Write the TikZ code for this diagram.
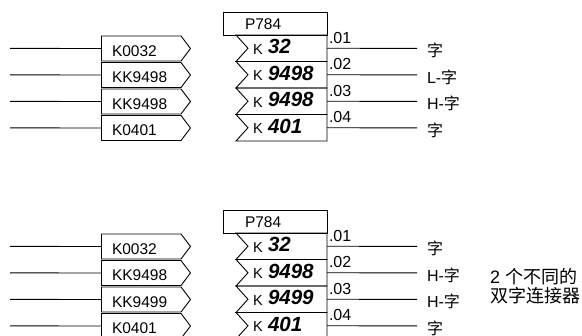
\documentclass[tikz,border=0pt]{standalone}
\usepackage{fontspec}
\setmainfont{Liberation Sans}
\newfontfamily\cjk{Noto Sans CJK SC}
\begin{document}
\begin{tikzpicture}[x=1pt,y=-1pt,line width=0.9pt,
  txt/.style={inner sep=0pt, outer sep=0pt, anchor=base west},
  lat/.style={txt, font=\fontsize{15.5}{18}\selectfont},
  kk/.style={txt, font=\fontsize{14.5}{17}\selectfont},
  num/.style={txt, font=\fontsize{20.5}{24}\selectfont\bfseries\itshape},
  outl/.style={txt, font=\fontsize{16}{18}\selectfont},
  note/.style={txt, font=\fontsize{18}{20}\selectfont},
  hid/.style={rectangle, inner sep=0pt, outer sep=0pt, draw=none, anchor=north west},
  cbox/.style={hid, minimum width=79.5pt, minimum height=25pt},
  rbox/.style={hid, minimum width=79pt, minimum height=26.5pt},
  pbox/.style={hid, draw, minimum width=103.5pt, minimum height=22.5pt},
]
\useasboundingbox (0,0) rectangle (582,336);
\clip (0,0) rectangle (582,336);
\foreach \g/\dy/\lst in {a/0/{1/K0032/32/{\cjk 字}, 2/KK9498/9498/{L-{\cjk 字}}, 3/KK9498/9498/{H-{\cjk 字}}, 4/K0401/401/{\cjk 字}},
                          b/198/{1/K0032/32/{\cjk 字}, 2/KK9498/9498/{H-{\cjk 字}}, 3/KK9499/9499/{H-{\cjk 字}}, 4/K0401/401/{\cjk 字}}} {
  \pgfmathsetmacro{\ptop}{12.5+\dy}
  \pgfmathsetmacro{\pbase}{29.5+\dy}
  \node[pbox] (p\g) at (223.5,\ptop) {};
  \node[lat] (pt\g) at (245,\pbase) {P784};
  \foreach \i/\ct/\nm/\out in \lst {
    \pgfmathsetmacro{\ctop}{36+26.5*(\i-1)+\dy}
    \pgfmathsetmacro{\rtop}{35+26.5*(\i-1)+\dy}
    \pgfmathsetmacro{\mid}{48.4+26.5*(\i-1)+\dy}
    \pgfmathsetmacro{\ctb}{\mid+8}
    \pgfmathsetmacro{\kb}{\mid+6}
    \pgfmathsetmacro{\nb}{\mid+5.5}
    \pgfmathsetmacro{\ib}{\mid-5}
    \pgfmathsetmacro{\ob}{\mid+8.5}
    % connector box
    \node[cbox] (c\g\i) at (101.5,\ctop) {};
    \draw (c\g\i.north west) -- (c\g\i.north east) -- ([xshift=9.5pt]c\g\i.east)
          -- (c\g\i.south east) -- (c\g\i.south west) -- cycle;
    \node[lat] (ct\g\i) at (112,\ctb) {\ct};
    \coordinate (in\g\i) at (10,\mid);
    \draw (in\g\i) -- (c\g\i.west);
    % block row
    \node[rbox] (r\g\i) at (248,\rtop) {};
    \draw ([xshift=-12pt]r\g\i.north west) -- (r\g\i.north east) -- (r\g\i.south east)
          -- ([xshift=-12pt]r\g\i.south west) -- (r\g\i.west) -- cycle;
    \node[kk] (k\g\i) at (253,\kb) {K};
    \node[num] (n\g\i) at (268,\nb) {\nm};
    \node[outl] (x\g\i) at (329,\ib) {.0\i};
    \coordinate (o\g\i) at (417,\mid);
    \draw (r\g\i.east) -- (o\g\i);
    \node[outl] (ol\g\i) at (427,\ob) {\out};
  }
}
\node[note] (note1) at (490,283.5) {2 {\cjk 个不同的}};
\node[note] (note2) at (490,302.5) {\cjk 双字连接器};
\end{tikzpicture}
\end{document}
